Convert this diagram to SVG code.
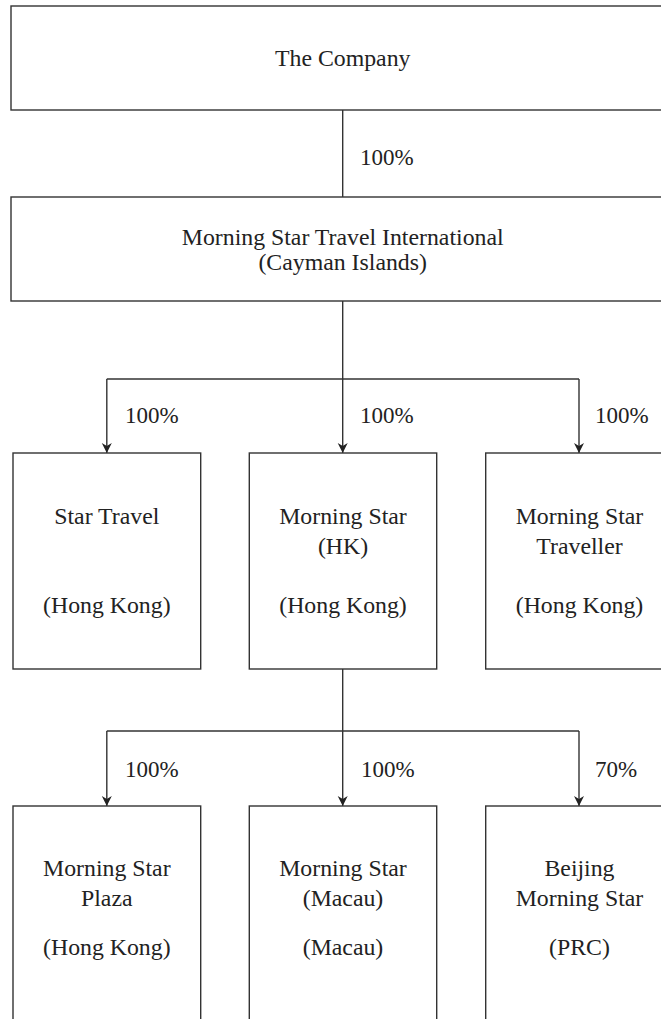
<svg xmlns="http://www.w3.org/2000/svg" width="661" height="1019" viewBox="0 0 661 1019">
<style>
.box{fill:#fff;stroke:#333;stroke-width:1.4}
.ln{fill:none;stroke:#333;stroke-width:1.4}
text{font-family:"Liberation Serif","Times New Roman",serif;font-size:23.8px;fill:#222}
.pct{font-size:23px}
.c{text-anchor:middle}
</style>
<defs>
<marker id="arr" viewBox="0 0 10 12" refX="10" refY="6" markerWidth="10" markerHeight="12" markerUnits="userSpaceOnUse" orient="auto">
<path d="M0,1 L10,6 L0,11 L3,6 Z" fill="#222"/>
</marker>
</defs>
<rect width="661" height="1019" fill="#fff"/>
<g id="connectors">
<line class="ln" x1="342.7" y1="110" x2="342.7" y2="197"/>
<line class="ln" x1="342.7" y1="301" x2="342.7" y2="379"/>
<polyline class="ln" points="106.8,379 579,379"/>
<line class="ln" x1="106.8" y1="379" x2="106.8" y2="453" marker-end="url(#arr)"/>
<line class="ln" x1="342.7" y1="379" x2="342.7" y2="453" marker-end="url(#arr)"/>
<line class="ln" x1="579" y1="379" x2="579" y2="453" marker-end="url(#arr)"/>
<line class="ln" x1="342.7" y1="669" x2="342.7" y2="731"/>
<polyline class="ln" points="106.8,731 579,731"/>
<line class="ln" x1="106.8" y1="731" x2="106.8" y2="806" marker-end="url(#arr)"/>
<line class="ln" x1="342.7" y1="731" x2="342.7" y2="806" marker-end="url(#arr)"/>
<line class="ln" x1="579" y1="731" x2="579" y2="806" marker-end="url(#arr)"/>
<text class="pct" x="360" y="165">100%</text>
<text class="pct" x="125" y="423">100%</text>
<text class="pct" x="360" y="423">100%</text>
<text class="pct" x="595" y="423">100%</text>
<text class="pct" x="125" y="777">100%</text>
<text class="pct" x="361" y="777">100%</text>
<text class="pct" x="595" y="777">70%</text>
</g>
<g id="company">
<rect class="box" x="11" y="6" width="664" height="104"/>
<text class="c" x="342.7" y="66">The Company</text>
</g>
<g id="msti">
<rect class="box" x="11" y="197" width="664" height="104"/>
<text class="c" x="342.7" y="245">Morning Star Travel International</text>
<text class="c" x="342.7" y="270">(Cayman Islands)</text>
</g>
<g id="star-travel">
<rect class="box" x="13" y="453" width="187.7" height="216"/>
<text class="c" x="106.8" y="524">Star Travel</text>
<text class="c" x="106.8" y="613">(Hong Kong)</text>
</g>
<g id="ms-hk">
<rect class="box" x="249.3" y="453" width="187.4" height="216"/>
<text class="c" x="343" y="524">Morning Star</text>
<text class="c" x="343" y="554">(HK)</text>
<text class="c" x="343" y="613">(Hong Kong)</text>
</g>
<g id="ms-traveller">
<rect class="box" x="485.7" y="453" width="187.5" height="216"/>
<text class="c" x="579.5" y="524">Morning Star</text>
<text class="c" x="579.5" y="554">Traveller</text>
<text class="c" x="579.5" y="613">(Hong Kong)</text>
</g>
<g id="ms-plaza">
<rect class="box" x="13" y="806" width="187.7" height="240"/>
<text class="c" x="106.8" y="876">Morning Star</text>
<text class="c" x="106.8" y="906">Plaza</text>
<text class="c" x="106.8" y="955">(Hong Kong)</text>
</g>
<g id="ms-macau">
<rect class="box" x="249.3" y="806" width="187.4" height="240"/>
<text class="c" x="343" y="876">Morning Star</text>
<text class="c" x="343" y="906">(Macau)</text>
<text class="c" x="343" y="955">(Macau)</text>
</g>
<g id="beijing-ms">
<rect class="box" x="485.7" y="806" width="187.5" height="240"/>
<text class="c" x="579.5" y="876">Beijing</text>
<text class="c" x="579.5" y="906">Morning Star</text>
<text class="c" x="579.5" y="955">(PRC)</text>
</g>
</svg>
